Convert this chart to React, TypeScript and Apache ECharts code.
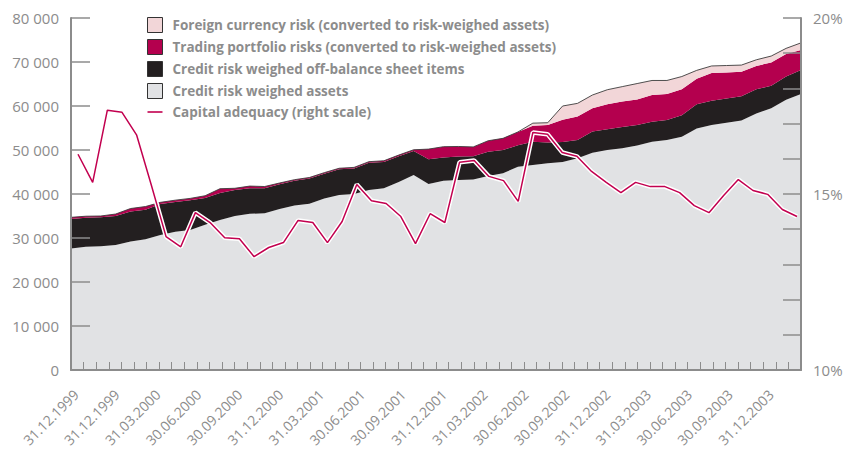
import React, { useEffect, useRef } from "react";
import * as echarts from "echarts";

const xLabels = [
  "31.12.1999", "31.12.1999", "31.03.2000", "30.06.2000", "30.09.2000", "31.12.2000",
  "31.03.2001", "30.06.2001", "30.09.2001", "31.12.2001", "31.03.2002", "30.06.2002",
  "30.09.2002", "31.12.2002", "31.03.2003", "30.06.2003", "30.09.2003", "31.12.2003",
];

const creditAssets = [
  27600, 28000, 28100, 28400, 29200, 29700, 30700, 31400, 31800, 33000,
  34100, 35000, 35500, 35600, 36600, 37400, 37800, 39000, 39800, 40000,
  40900, 41300, 42700, 44300, 42300, 43000, 43200, 43300, 44100, 44700,
  46200, 46600, 47000, 47300, 48100, 49400, 50000, 50400, 51000, 51900,
  52300, 53000, 54900, 55700, 56200, 56700, 58300, 59500, 61400, 62700,
];

const offBalance = [
  6700, 6600, 6600, 6600, 6800, 6700, 7000, 6800, 6800, 6100,
  6100, 5900, 5800, 5700, 5600, 5600, 5700, 5600, 5800, 5800,
  6200, 6000, 5900, 5500, 5600, 5300, 5300, 5300, 5500, 5300,
  4900, 5300, 4700, 4500, 4200, 4800, 4700, 4800, 4700, 4500,
  4500, 4900, 5500, 5500, 5500, 5500, 5500, 5100, 5300, 5500,
];

const trading = [
  400, 350, 300, 450, 700, 750, 400, 400, 400, 500,
  1000, 400, 500, 400, 300, 250, 250, 250, 250, 250,
  250, 250, 250, 250, 2300, 2450, 2300, 2100, 2500, 2650,
  3000, 3600, 4000, 5100, 5300, 5300, 5700, 5800, 5800, 6100,
  5900, 5900, 5800, 6300, 5900, 5600, 5300, 5300, 5100, 4500,
];

const foreign = [
  0, 0, 0, 0, 0, 0, 0, 0, 0, 0,
  0, 0, 0, 0, 0, 0, 0, 0, 0, 0,
  0, 0, 0, 0, 0, 0, 0, 0, 0, 0,
  0, 600, 500, 3100, 3000, 3000, 3300, 3400, 3600, 3300,
  3100, 2900, 1900, 1600, 1600, 1500, 1400, 1450, 1300, 1650,
];

const capitalAdequacy = [
  16.13, 15.33, 17.38, 17.32, 16.67, 15.25, 13.79, 13.5, 14.47, 14.19,
  13.76, 13.73, 13.22, 13.48, 13.62, 14.25, 14.19, 13.62, 14.22, 15.27,
  14.81, 14.73, 14.36, 13.59, 14.44, 14.19, 15.9, 15.95, 15.5, 15.38,
  14.79, 16.75, 16.7, 16.18, 16.07, 15.64, 15.33, 15.04, 15.33, 15.21,
  15.21, 15.04, 14.67, 14.47, 14.96, 15.41, 15.1, 14.99, 14.56, 14.36,
];

const periods = creditAssets.map((_, i) => String(i + 1));
const minorTicks = new Array(58).fill("");

const NAME_FX = "Foreign currency risk (converted to risk-weighed assets)";
const NAME_TR = "Trading portfolio risks (converted to risk-weighed assets)";
const NAME_OB = "Credit risk weighed off-balance sheet items";
const NAME_CA = "Credit risk weighed assets";
const NAME_LN = "Capital adequacy (right scale)";

const C_GRAY = "#e1e2e4";
const C_BLACK = "#231f20";
const C_MAG = "#b4004e";
const C_PINK = "#f2d6d8";
const C_LINE = "#c2004f";
const AXIS = "#8c8c8c";
const TEXT = "#8c8c8c";
const FONT = "'Open Sans', 'Noto Sans', sans-serif";

export default function App() {
  const ref = useRef<HTMLDivElement>(null);
  useEffect(() => {
    if (!ref.current) return;
    const chart = echarts.init(ref.current, null, { renderer: "svg" });
    const area = (name: string, data: number[], color: string, line?: any) => ({
      name,
      type: "line",
      stack: "total",
      xAxisIndex: 0,
      yAxisIndex: 0,
      data,
      symbol: "none",
      itemStyle: { color },
      lineStyle: line || { width: 0, color },
      areaStyle: { color, opacity: 1 },
      z: 2,
    });
    chart.setOption({
      animation: false,
      grid: [
        { left: 71, right: 55, top: 18, bottom: 85 },
        { left: 78, right: 59, top: 18, bottom: 85 },
        { left: 76, right: 85, top: 18, bottom: 85 },
      ],
      legend: {
        orient: "vertical",
        left: 147,
        top: 17,
        padding: 0,
        itemWidth: 15,
        itemHeight: 15,
        itemGap: 6,
        selectedMode: false,
        textStyle: {
          color: TEXT,
          fontSize: 13.5,
          fontWeight: "bold",
          fontFamily: FONT,
          padding: [0, 0, 0, 5],
        },
        data: [
          { name: NAME_FX, icon: "rect", itemStyle: { color: C_PINK, borderColor: "#333", borderWidth: 1 } },
          { name: NAME_TR, icon: "rect", itemStyle: { color: C_MAG, borderColor: "#333", borderWidth: 1 } },
          { name: NAME_OB, icon: "rect", itemStyle: { color: C_BLACK, borderColor: "#333", borderWidth: 1 } },
          { name: NAME_CA, icon: "rect", itemStyle: { color: C_GRAY, borderColor: "#333", borderWidth: 1 } },
          { name: NAME_LN, icon: "path://M0 0H15V1.6H0Z", itemStyle: { color: C_LINE, borderWidth: 0 } },
        ],
      },
      xAxis: [
        { gridIndex: 0, type: "category", data: periods, boundaryGap: false, show: false },
        { gridIndex: 1, type: "category", data: periods, boundaryGap: false, show: false },
        {
          gridIndex: 0,
          type: "category",
          data: minorTicks,
          boundaryGap: true,
          position: "bottom",
          z: 5,
          axisLine: { show: true, lineStyle: { color: AXIS, width: 2 } },
          axisTick: { show: true, inside: true, length: 8, interval: 0, lineStyle: { color: AXIS, width: 1 } },
          axisLabel: { show: false },
          splitLine: { show: false },
        },
        {
          gridIndex: 2,
          type: "category",
          data: xLabels,
          boundaryGap: false,
          axisLine: { show: false },
          axisTick: { show: false },
          splitLine: { show: false },
          axisLabel: { rotate: 45, interval: 0, margin: 22, color: TEXT, fontSize: 14, fontFamily: FONT },
        },
      ],
      yAxis: [
        {
          gridIndex: 0,
          type: "value",
          position: "left",
          min: 0,
          max: 80000,
          interval: 10000,
          z: 5,
          axisLine: { show: true, lineStyle: { color: AXIS, width: 2 } },
          axisTick: { show: true, inside: true, length: 19, lineStyle: { color: AXIS, width: 1.5 } },
          splitLine: { show: false },
          axisLabel: {
            margin: 12,
            color: TEXT,
            fontSize: 15,
            fontFamily: FONT,
            formatter: (v: number) => (v === 0 ? "0" : `${v / 1000} 000`),
          },
        },
        {
          gridIndex: 0,
          type: "value",
          position: "right",
          min: 10,
          max: 20,
          interval: 1,
          z: 5,
          axisLine: { show: true, lineStyle: { color: AXIS, width: 2 } },
          axisTick: { show: true, inside: true, length: 18, lineStyle: { color: AXIS, width: 1.5 } },
          splitLine: { show: false },
          axisLabel: {
            margin: 12,
            color: TEXT,
            fontSize: 15,
            fontFamily: FONT,
            formatter: (v: number) => (v % 5 === 0 ? `${v}%` : ""),
          },
        },
        { gridIndex: 1, type: "value", min: 10, max: 20, show: false, splitLine: { show: false } },
        { gridIndex: 2, type: "value", show: false, splitLine: { show: false } },
      ],
      series: [
        area(NAME_CA, creditAssets, C_GRAY),
        area(NAME_OB, offBalance, C_BLACK),
        area(NAME_TR, trading, C_MAG),
        area(NAME_FX, foreign, C_PINK, { width: 0.9, color: "#3c3c3c" }),
        {
          name: "halo",
          type: "line",
          xAxisIndex: 1,
          yAxisIndex: 2,
          data: capitalAdequacy,
          symbol: "none",
          lineStyle: { color: "#ffffff", width: 4.5 },
          itemStyle: { color: "#ffffff" },
          z: 3,
          silent: true,
        },
        {
          name: NAME_LN,
          type: "line",
          xAxisIndex: 1,
          yAxisIndex: 2,
          data: capitalAdequacy,
          symbol: "none",
          lineStyle: { color: C_LINE, width: 1.5 },
          itemStyle: { color: C_LINE },
          z: 4,
        },
      ],
    });
    return () => chart.dispose();
  }, []);
  return <div ref={ref} style={{ width: 856, height: 455, position: "absolute", left: 0, top: 0 }} />;
}
